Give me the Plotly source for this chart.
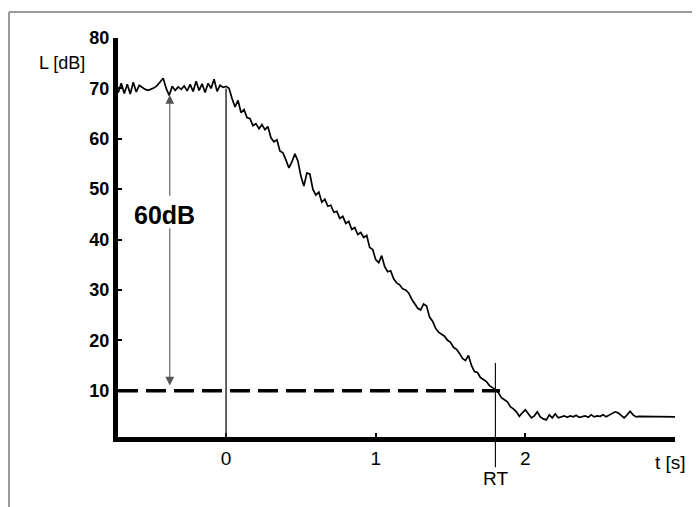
import numpy as np
import plotly.graph_objects as go

# ---------------- data ----------------
t_start = -0.74   # s
t_step = 0.02     # s
level_db = [
    # plateau, t = -0.74 ... -0.02
    70.5, 69.2, 71.0, 69.0, 70.8, 68.9, 71.2, 69.3, 70.6, 70.2,
    69.8, 69.6, 69.9, 70.1, 70.6, 71.3, 72.0, 70.0, 68.6, 70.4,
    69.6, 70.3, 69.8, 70.5, 69.5, 70.8, 69.4, 71.4, 69.6, 70.9,
    69.2, 71.0, 70.0, 71.8, 69.4, 70.6, 70.2,
    # decay, t = 0.00 ... 1.94
    70.4, 70.0, 68.0, 66.3, 67.6, 65.2, 65.8, 64.2, 64.0, 62.6,
    63.0, 62.0, 62.8, 61.8, 62.4, 60.2, 59.4, 59.8, 57.6, 57.2,
    55.8, 54.2, 55.4, 57.0, 55.6, 52.6, 50.6, 53.2, 53.0, 50.0,
    48.8, 49.4, 47.4, 48.0, 46.6, 46.8, 45.4, 45.6, 44.2, 44.6,
    43.2, 43.6, 42.0, 42.4, 41.0, 41.4, 40.4, 40.8, 38.4, 38.0,
    36.0, 35.4, 36.8, 34.6, 33.6, 33.8, 32.2, 31.4, 31.0, 30.2,
    30.0, 29.4, 28.2, 27.4, 26.4, 26.0, 27.2, 26.8, 24.6, 23.8,
    22.4, 21.6, 21.2, 20.8, 20.0, 19.6, 18.6, 18.2, 17.4, 16.4,
    16.0, 17.0, 15.0, 13.8, 13.6, 12.6, 12.2, 11.8, 11.0, 10.6,
    10.2, 9.6, 8.6, 8.2, 7.8, 6.8, 6.4, 5.8,
    # noise floor, t = 1.96 ... 3.02
    4.9, 5.6, 6.2, 5.4, 4.6, 5.0, 5.8, 4.8, 4.4, 4.2,
    5.2, 4.6, 5.4, 4.6, 4.8, 5.0, 4.7, 5.0, 4.8, 5.1,
    4.7, 4.9, 5.0, 4.7, 5.2, 4.8, 5.0, 4.9, 5.2, 4.8,
    5.1, 5.4, 5.8, 5.6, 5.0, 4.6, 5.2, 5.9, 5.2, 4.8,
    4.9, 4.9, 4.8, 4.9, 4.9, 4.8, 4.9, 4.9, 4.8, 4.8,
    4.9, 4.8, 4.8, 4.8,
]
t = np.round(t_start + t_step * np.arange(len(level_db)), 3)

x_ticks = [0, 1, 2, 3]
x_tick_labels = ["0", "1", "2", ""]
y_ticks = [10, 20, 30, 40, 50, 60, 70, 80]

T0 = 0.0          # start of decay
RT = 1.80         # reverberation time
L_START = 70.0    # steady level
L_END = 10.0      # level after 60 dB decay
ARROW_T = -0.376  # where the 60 dB arrow is drawn

# ---------------- layout geometry ----------------
OFF = 8                       # page (body) offset of the figure
W, H = 700 - OFF, 507 - OFF
ML, MT = 118 - OFF, 38 - OFF
MR = W - (675 - OFF)
MB = H - (437 - OFF)
PW, PH = W - ML - MR, H - MT - MB
X_RANGE = [-0.722, 3.0]
Y_RANGE = [0.8, 80]


def px_x(px):
    """screenshot x pixel -> paper x"""
    return (px - OFF - ML) / PW


def px_y(py):
    """screenshot y pixel -> paper y"""
    return (H - MB - (py - OFF)) / PH


def paper_from_db(v):
    return (v - Y_RANGE[0]) / (Y_RANGE[1] - Y_RANGE[0])


FONT = "Liberation Sans, Arial, Helvetica, sans-serif"

fig = go.Figure()

# 10 dB dashed reference line
fig.add_trace(go.Scatter(
    x=[X_RANGE[0], RT + 0.03], y=[L_END, L_END], mode="lines",
    line=dict(color="black", width=3.5, dash="20px,8px"),
    hoverinfo="skip", showlegend=False))

# decay curve
fig.add_trace(go.Scatter(
    x=t, y=level_db, mode="lines",
    line=dict(color="black", width=1.7),
    showlegend=False))

shapes = [
    # vertical line at t=0
    dict(type="line", xref="x", yref="y", x0=T0, x1=T0,
         y0=Y_RANGE[0], y1=L_START, line=dict(color="#222", width=1.4)),
    # RT marker line (extends below the axis)
    dict(type="line", xref="x", yref="paper", x0=RT, x1=RT,
         y0=paper_from_db(-5.2), y1=paper_from_db(15.5),
         line=dict(color="#111", width=1.2)),
    # page frame
    dict(type="line", xref="paper", yref="paper",
         x0=px_x(9), x1=px_x(9), y0=px_y(12), y1=px_y(510),
         line=dict(color="#9a9a9a", width=2)),
    dict(type="line", xref="paper", yref="paper",
         x0=px_x(9), x1=px_x(705), y0=px_y(12), y1=px_y(12),
         line=dict(color="#9a9a9a", width=2)),
]


def label(text, x, y, size, xref="paper", yref="paper"):
    return dict(x=x, y=y, xref=xref, yref=yref, text=text, showarrow=False,
                xanchor="center", yanchor="middle",
                font=dict(family=FONT, size=size, color="black"))


annotations = [
    # 60 dB arrows
    dict(x=ARROW_T, y=68.7, ax=ARROW_T, ay=48.4, xref="x", yref="y",
         axref="x", ayref="y", text="", showarrow=True, arrowhead=2,
         arrowsize=1.6, arrowwidth=1.1, arrowcolor="#555"),
    dict(x=ARROW_T, y=11.0, ax=ARROW_T, ay=42.5, xref="x", yref="y",
         axref="x", ayref="y", text="", showarrow=True, arrowhead=2,
         arrowsize=1.6, arrowwidth=1.1, arrowcolor="#555"),
    label("<b>60dB</b>", -0.408, 44.8, 25, xref="x", yref="y"),
    label("RT", px_x(495), px_y(479), 19),
    label("t [s]", px_x(670), px_y(462), 19),
    label("L [dB]", px_x(62), px_y(63), 18),
]

fig.update_layout(
    width=W, height=H,
    margin=dict(l=ML, r=MR, t=MT, b=MB, pad=0),
    paper_bgcolor="white", plot_bgcolor="white",
    shapes=shapes, annotations=annotations,
    xaxis=dict(range=X_RANGE, showline=True, linewidth=5, linecolor="black",
               showgrid=False, zeroline=False, ticks="inside", ticklen=4,
               tickwidth=2, tickcolor="black", tickvals=x_ticks,
               ticktext=x_tick_labels,
               tickfont=dict(family=FONT, size=19, color="black")),
    yaxis=dict(range=Y_RANGE, showline=True, linewidth=5, linecolor="black",
               showgrid=False, zeroline=False, ticks="inside", ticklen=4,
               tickwidth=2, tickcolor="black", tickvals=y_ticks,
               ticktext=[f"<b>{v}</b>" for v in y_ticks],
               tickfont=dict(family=FONT, size=18, color="black")),
)

fig.write_html("out.html")
